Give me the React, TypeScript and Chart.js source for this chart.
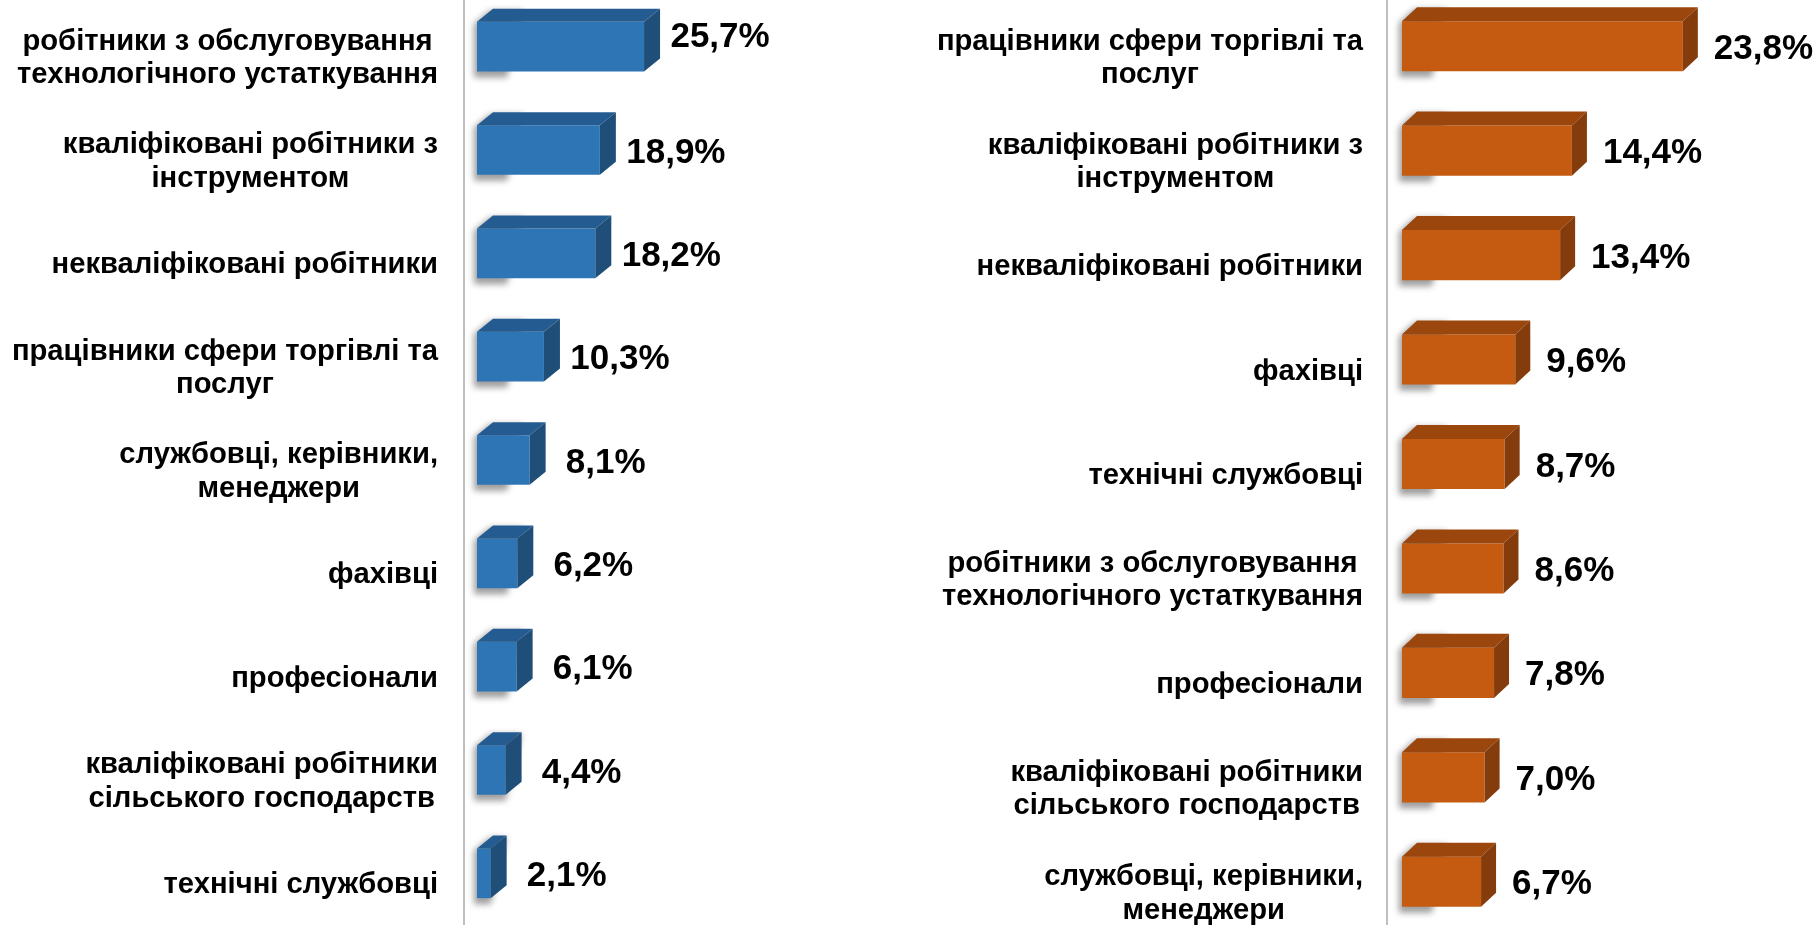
import React, { useEffect, useRef } from "react";
import { Chart, registerables } from "chart.js";

Chart.register(...registerables);

// ---------- data ----------
const leftCategories: string[][] = [
  ["робітники з обслуговування", "технологічного устаткування"],
  ["кваліфіковані робітники з", "інструментом"],
  ["некваліфіковані робітники"],
  ["працівники сфери торгівлі та", "послуг"],
  ["службовці, керівники,", "менеджери"],
  ["фахівці"],
  ["професіонали"],
  ["кваліфіковані робітники", "сільського господарств"],
  ["технічні службовці"],
];
const leftValues: number[] = [25.7, 18.9, 18.2, 10.3, 8.1, 6.2, 6.1, 4.4, 2.1];

const rightCategories: string[][] = [
  ["працівники сфери торгівлі та", "послуг"],
  ["кваліфіковані робітники з", "інструментом"],
  ["некваліфіковані робітники"],
  ["фахівці"],
  ["технічні службовці"],
  ["робітники з обслуговування", "технологічного устаткування"],
  ["професіонали"],
  ["кваліфіковані робітники", "сільського господарств"],
  ["службовці, керівники,", "менеджери"],
];
const rightValues: number[] = [23.8, 14.4, 13.4, 9.6, 8.7, 8.6, 7.8, 7.0, 6.7];

const leftAxisMax = 30;
const rightAxisMax = 25;

// ---------- styling ----------
const FONT_FAMILY = '"Liberation Sans", Arial, sans-serif';
const CAT_FONT_SIZE = 29.2;
const CAT_LINE_H = 33.5;
const VAL_FONT_SIZE = 35;

type Panel = {
  labels: string[][];
  values: number[];
  max: number;
  left: number;
  top: number;
  width: number;
  height: number;
  padLeft: number;
  padRight: number;
  front: string;
  topFace: string;
  side: string;
  dx: number;
  dy: number;
  axisGap: number;
  valueAlign: "center" | "left";
  valueOffset: number;
  firstValueDy: number;
};

const panels: Panel[] = [
  {
    labels: leftCategories,
    values: leftValues,
    max: leftAxisMax,
    left: 0,
    top: -5,
    width: 910,
    height: 930,
    padLeft: 477,
    padRight: 910 - (477 + 195),
    front: "#2E75B6",
    topFace: "#245C91",
    side: "#1F4E79",
    dx: 16,
    dy: 13,
    axisGap: 13,
    valueAlign: "center",
    valueOffset: 76,
    firstValueDy: -12,
  },
  {
    labels: rightCategories,
    values: rightValues,
    max: rightAxisMax,
    left: 910,
    top: -6,
    width: 907,
    height: 940,
    padLeft: 492,
    padRight: 907 - (492 + 295),
    front: "#C55A11",
    topFace: "#9A460D",
    side: "#843C0C",
    dx: 15,
    dy: 14,
    axisGap: 15,
    valueAlign: "left",
    valueOffset: 31,
    firstValueDy: 0,
  },
];

function fmt(v: number): string {
  return v.toFixed(1).replace(".", ",") + "%";
}

function makePlugin(p: Panel) {
  return {
    id: "bars3d",
    beforeDatasetsDraw(chart: any) {
      const ctx = chart.ctx as CanvasRenderingContext2D;
      const area = chart.chartArea;
      // axis line
      ctx.save();
      ctx.strokeStyle = "#BFBFBF";
      ctx.lineWidth = 2;
      ctx.beginPath();
      const ax = area.left - p.axisGap;
      ctx.moveTo(ax, 0);
      ctx.lineTo(ax, chart.height);
      ctx.stroke();
      ctx.restore();
      // soft shadows
      const meta = chart.getDatasetMeta(0);
      meta.data.forEach((el: any) => {
        const { x, y, base, height } = el.getProps(["x", "y", "base", "height"], true);
        const t = y - height / 2;
        const b = y + height / 2;
        ctx.save();
        ctx.filter = "blur(3px)";
        ctx.fillStyle = "rgba(0,0,0,0.38)";
        ctx.beginPath();
        ctx.moveTo(base - 3, t + 2);
        ctx.lineTo(base - 3 + p.dx, t - p.dy + 2);
        ctx.lineTo(Math.min(x, base + 30) + p.dx, t - p.dy + 2);
        ctx.lineTo(Math.min(x, base + 30), b + 6);
        ctx.lineTo(base - 3, b + 6);
        ctx.closePath();
        ctx.fill();
        ctx.restore();
      });
    },
    afterDatasetsDraw(chart: any) {
      const ctx = chart.ctx as CanvasRenderingContext2D;
      const meta = chart.getDatasetMeta(0);
      meta.data.forEach((el: any, i: number) => {
        const { x, y, base, height } = el.getProps(["x", "y", "base", "height"], true);
        const t = y - height / 2;
        const b = y + height / 2;
        // top face
        ctx.fillStyle = p.topFace;
        ctx.beginPath();
        ctx.moveTo(base, t);
        ctx.lineTo(x, t);
        ctx.lineTo(x + p.dx, t - p.dy);
        ctx.lineTo(base + p.dx, t - p.dy);
        ctx.closePath();
        ctx.fill();
        // side face
        ctx.fillStyle = p.side;
        ctx.beginPath();
        ctx.moveTo(x, t);
        ctx.lineTo(x + p.dx, t - p.dy);
        ctx.lineTo(x + p.dx, b - p.dy);
        ctx.lineTo(x, b);
        ctx.closePath();
        ctx.fill();
        // value label
        ctx.fillStyle = "#000";
        ctx.font = `bold ${VAL_FONT_SIZE}px ${FONT_FAMILY}`;
        ctx.textBaseline = "alphabetic";
        const baseline = y + (VAL_FONT_SIZE * 0.716) / 2 + (i === 0 ? p.firstValueDy : 0);
        const txt = fmt(p.values[i]);
        ctx.textAlign = p.valueAlign === "center" ? "center" : "left";
        ctx.fillText(txt, x + p.valueOffset, baseline);
      });
    },
    afterDraw(chart: any) {
      const ctx = chart.ctx as CanvasRenderingContext2D;
      const area = chart.chartArea;
      const yScale = chart.scales.y;
      const right = area.left - 39;
      ctx.save();
      ctx.font = `bold ${CAT_FONT_SIZE}px ${FONT_FAMILY}`;
      ctx.fillStyle = "#000";
      ctx.textAlign = "center";
      ctx.textBaseline = "alphabetic";
      p.labels.forEach((lines, i) => {
        const cy = yScale.getPixelForValue(i);
        const maxW = Math.max(...lines.map((l) => ctx.measureText(l).width));
        const cx = right - maxW / 2;
        const n = lines.length;
        lines.forEach((line, j) => {
          const bl = cy + 12.5 + (CAT_FONT_SIZE * 0.519) / 2 + (j - (n - 1) / 2) * CAT_LINE_H;
          ctx.fillText(line, cx, bl);
        });
      });
      ctx.restore();
    },
  };
}

function PanelChart({ p }: { p: Panel }) {
  const ref = useRef<HTMLCanvasElement | null>(null);
  useEffect(() => {
    if (!ref.current) return;
    const chart = new Chart(ref.current, {
      type: "bar",
      data: {
        labels: p.labels.map((l) => l.join(" ")),
        datasets: [
          {
            data: p.values,
            backgroundColor: p.front,
            borderWidth: 0,
            barPercentage: 0.48,
            categoryPercentage: 1,
          },
        ],
      },
      options: {
        indexAxis: "y",
        responsive: false,
        animation: false,
        devicePixelRatio: 1,
        layout: { padding: { left: p.padLeft, right: p.padRight, top: 0, bottom: 0 } },
        plugins: { legend: { display: false }, tooltip: { enabled: false } },
        scales: {
          x: { display: false, min: 0, max: p.max },
          y: { display: false, offset: true },
        },
      },
      plugins: [makePlugin(p)],
    } as any);
    return () => chart.destroy();
  }, [p]);
  return (
    <canvas
      ref={ref}
      width={p.width}
      height={p.height}
      style={{ position: "absolute", left: p.left, top: p.top, width: p.width, height: p.height }}
    />
  );
}

export default function App() {
  return (
    <div
      style={{
        position: "fixed",
        left: 0,
        top: 0,
        width: 1817,
        height: 925,
        overflow: "hidden",
        background: "#fff",
      }}
    >
      {panels.map((p, i) => (
        <PanelChart key={i} p={p} />
      ))}
    </div>
  );
}
